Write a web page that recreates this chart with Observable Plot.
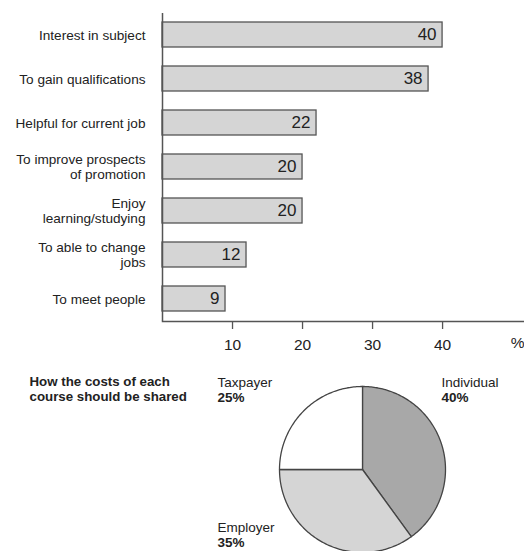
<!DOCTYPE html>
<html><head><meta charset="utf-8">
<script src="https://cdn.jsdelivr.net/npm/d3@7"></script>
<script src="https://cdn.jsdelivr.net/npm/@observablehq/plot@0.6"></script>
<style>
body{margin:0;background:#fff;}
#chart svg{display:block;}
</style></head><body><div id="chart"></div>
<script>
// ---- data ----
const reasons = ["Interest in subject","To gain qualifications","Helpful for current job","To improve prospects\nof promotion","Enjoy\nlearning/studying","To able to change\njobs","To meet people"];
const percents = [40,38,22,20,20,12,9];
const xTicks = [10,20,30,40];
const unitLabel = "%";
const pieTitle = "How the costs of each\ncourse should be shared";
const payers = ["Individual","Employer","Taxpayer"];
const shares = [40,35,25];

// ---- styles / layout ----
const font = "'Liberation Sans', Arial, Helvetica, sans-serif";
const ink = "#222";
const lineCol = "#555";
const sliceColors = ["#a8a8a8","#d5d5d5","#ffffff"];
const pieLabelOffsets = [[441, 22], [217, 167], [217, 22]]; // layout offsets (px) for payer labels

const bars = reasons.map((r, i) => ({reason: r, value: percents[i]}));

const barPlot = Plot.plot({
  width: 524, height: 355,
  marginLeft: 162, marginRight: 0, marginTop: 13, marginBottom: 34,
  style: {fontFamily: font, color: ink, background: "#fff"},
  x: {domain: [0, 51.7], axis: null},
  y: {domain: reasons, paddingInner: 0.43, paddingOuter: 0.215, axis: null},
  marks: [
    Plot.barX(bars, {x: "value", y: "reason", fill: "#d5d5d5", stroke: lineCol, strokeWidth: 1.3}),
    Plot.text(bars, {x: "value", y: "reason", text: d => String(d.value), textAnchor: "end", dx: -6, fontSize: 17, fill: ink}),
    Plot.axisY({tickSize: 0, tickPadding: 17, fontSize: 13.6, lineHeight: 1.08, label: null, fill: ink}),
    Plot.axisX({ticks: xTicks, tickSize: 8, tickPadding: 9, fontSize: 15.5, label: null, stroke: lineCol, strokeWidth: 1.3, fill: ink}),
    Plot.text([unitLabel], {frameAnchor: "bottom-right", dy: 26, textAnchor: "end", fontSize: 15.5, fill: ink}),
    Plot.frame({anchor: "bottom", stroke: lineCol, strokeWidth: 1.5}),
    Plot.ruleX([0], {stroke: lineCol, strokeWidth: 1.5})
  ]
});

// pie slices as polygons in unit-circle coordinates
const arcs = d3.pie().sort(null)(shares);
const slicePts = [];
arcs.forEach((a, i) => {
  const n = Math.ceil((a.endAngle - a.startAngle) / (Math.PI / 180));
  slicePts.push({payer: payers[i], x: 0, y: 0});
  for (let k = 0; k <= n; k++) {
    const t = a.startAngle + (a.endAngle - a.startAngle) * k / n;
    slicePts.push({payer: payers[i], x: Math.sin(t), y: Math.cos(t)});
  }
  slicePts.push({payer: payers[i], x: 0, y: 0});
});

const pieMarks = [
  Plot.line(slicePts, {x: "x", y: "y", z: "payer", fill: "payer", stroke: "#444", strokeWidth: 1.3, strokeLinejoin: "round"}),
  Plot.text([pieTitle], {frameAnchor: "top-left", dx: 29, dy: 20, textAnchor: "start", fontWeight: "bold", fontSize: 13.3, lineHeight: 1.12, fill: ink})
];
payers.forEach((p, i) => {
  const [dx, dy] = pieLabelOffsets[i];
  pieMarks.push(Plot.text([p], {frameAnchor: "top-left", dx, dy, textAnchor: "start", fontSize: 13.5, fill: ink}));
  pieMarks.push(Plot.text([shares[i] + "%"], {frameAnchor: "top-left", dx, dy: dy + 14.5, textAnchor: "start", fontSize: 13.5, fontWeight: "bold", fill: ink}));
});

const piePlot = Plot.plot({
  width: 524, height: 200,
  margin: 0,
  style: {fontFamily: font, color: ink, background: "#fff"},
  x: {domain: [-1, 1], range: [279, 445], axis: null},
  y: {domain: [-1, 1], range: [197, 31], axis: null},
  color: {domain: payers, range: sliceColors},
  marks: pieMarks
});

document.getElementById("chart").append(barPlot, piePlot);
</script>
</body></html>
